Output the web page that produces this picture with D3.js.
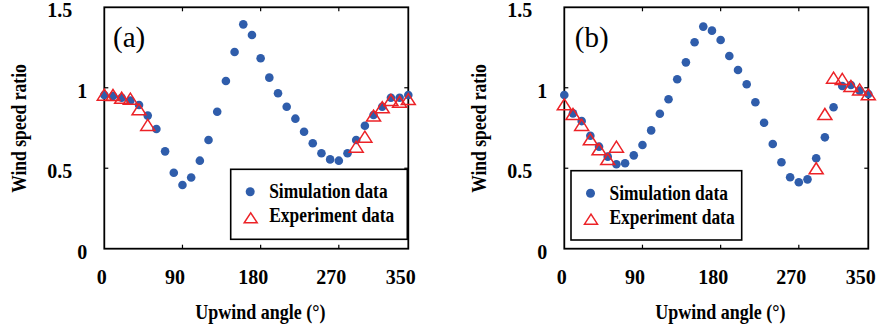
<!DOCTYPE html>
<html>
<head>
<meta charset="utf-8">
<script src="https://cdn.jsdelivr.net/npm/d3@7/dist/d3.min.js"></script>
<style>
  html, body { margin: 0; padding: 0; background: #fff; }
  svg { display: block; }
  text { font-family: "Liberation Serif", "Times New Roman", serif; }
</style>
</head>
<body>
<svg id="chart" width="879" height="326"></svg>
<script>
// ---------- data ----------
const angles = [0,10,20,30,40,50,60,70,80,90,100,110,120,130,140,150,160,170,
                180,190,200,210,220,230,240,250,260,270,280,290,300,310,320,330,340,350];

const simA = [0.955,0.949,0.938,0.920,0.893,0.827,0.744,0.605,0.472,0.396,
              0.442,0.547,0.675,0.851,1.042,1.222,1.394,1.328,1.183,1.063,
              0.966,0.882,0.808,0.727,0.655,0.593,0.555,0.547,0.593,0.675,
              0.764,0.831,0.882,0.938,0.938,0.955];
const expA = [0.957,0.955,0.938,0.932,0.866,0.769,null,null,null,null,
              null,null,null,null,null,null,null,null,null,null,
              null,null,null,null,null,null,null,null,null,0.634,
              0.696,0.827,0.879,0.924,0.913,0.930];

const simB = [0.955,0.841,0.793,0.702,0.634,0.572,0.525,0.531,0.580,0.644,
              0.735,0.839,0.929,1.053,1.158,1.283,1.380,1.355,1.297,1.197,
              1.110,1.022,0.910,0.783,0.651,0.537,0.444,0.413,0.431,0.562,
              0.692,0.879,1.011,1.017,0.982,0.961];
const expB = [0.897,0.837,0.769,0.680,0.618,0.557,0.634,null,null,null,
              null,null,null,null,null,null,null,null,null,null,
              null,null,null,null,null,null,null,null,null,0.500,
              0.837,1.063,1.055,1.011,0.990,0.959];

const xTicks = [0, 90, 180, 270, 350];
const xTickLabels = ["0", "90", "180", "270", "350"];
const yTicks = [0, 0.5, 1, 1.5];
const yTickLabels = ["0", "0.5", "1", "1.5"];
const seriesNames = ["Simulation data", "Experiment data"];
const panelLabels = ["(a)", "(b)"];
const xTitle = "Upwind angle (°)";
const yTitle = "Wind speed ratio";

// ---------- styling ----------
const BLUE = "#2f5dab";
const RED = "#ec2227";
const svg = d3.select("#chart");

function drawPanel(cfg) {
  const x = d3.scaleLinear().domain([0, 350]).range([cfg.left, cfg.left + 304]);
  const y = d3.scaleLinear().domain([0, 1.5]).range([248.7, 7.3]);
  const g = svg.append("g");
  const [x0, x1] = x.range();
  const [y0, y1] = y.range();

  // inside ticks
  const tl = 4;
  g.append("g").selectAll("line.xb").data(xTicks.slice(1, -1)).join("line")
    .attr("x1", d => x(d)).attr("x2", d => x(d)).attr("y1", y0).attr("y2", y0 - tl)
    .attr("stroke", "#000").attr("stroke-width", 1.2);
  g.append("g").selectAll("line.xt").data(xTicks.slice(1, -1)).join("line")
    .attr("x1", d => x(d)).attr("x2", d => x(d)).attr("y1", y1).attr("y2", y1 + tl)
    .attr("stroke", "#000").attr("stroke-width", 1.2);
  g.append("g").selectAll("line.yl").data(yTicks.slice(1, -1)).join("line")
    .attr("x1", x0).attr("x2", x0 + tl).attr("y1", d => y(d)).attr("y2", d => y(d))
    .attr("stroke", "#000").attr("stroke-width", 1.2);
  g.append("g").selectAll("line.yr").data(yTicks.slice(1, -1)).join("line")
    .attr("x1", x1).attr("x2", x1 - tl).attr("y1", d => y(d)).attr("y2", d => y(d))
    .attr("stroke", "#000").attr("stroke-width", 1.2);

  // frame
  g.append("rect").attr("x", x0).attr("y", y1).attr("width", x1 - x0).attr("height", y0 - y1)
    .attr("fill", "none").attr("stroke", "#000").attr("stroke-width", 1.8);

  // x tick labels
  g.append("g").selectAll("text").data(xTicks).join("text")
    .attr("x", (d, i) => x(d) + (xTickLabels[i].length === 1 ? -2.5 : -7.5))
    .attr("y", 283.5)
    .attr("text-anchor", "middle")
    .attr("font-size", 20).attr("font-weight", "bold")
    .text((d, i) => xTickLabels[i]);

  // y tick labels
  g.append("g").selectAll("text").data(yTicks).join("text")
    .attr("x", (d, i) => x0 + (yTickLabels[i].includes(".") ? -32 : -17))
    .attr("y", d => y(d) + 10)
    .attr("text-anchor", "end")
    .attr("font-size", 20).attr("font-weight", "bold")
    .text((d, i) => yTickLabels[i]);

  // titles
  g.append("text")
    .attr("transform", `translate(${(x0 + x1) / 2 + 4},318.5) scale(0.9,1)`)
    .attr("text-anchor", "middle").attr("font-size", 20).attr("font-weight", "bold")
    .text(xTitle);
  g.append("text")
    .attr("transform", `translate(${x0 - 78.5},${(y0 + y1) / 2 + 0.5}) rotate(-90) scale(0.88,1)`)
    .attr("text-anchor", "middle").attr("font-size", 20).attr("font-weight", "bold")
    .text(yTitle);

  // panel label
  g.append("text").attr("x", x0 + cfg.labelDx).attr("y", 46.5)
    .attr("font-size", 29).attr("font-weight", "normal")
    .text(cfg.label);

  // legend box
  const lg = cfg.legend;
  g.append("rect").attr("x", lg.x).attr("y", lg.y).attr("width", lg.w).attr("height", lg.h)
    .attr("fill", "#fff").attr("stroke", "#000").attr("stroke-width", 1.6);

  // simulation dots
  const simPts = angles.map((a, i) => [a, cfg.sim[i]]).filter(p => p[1] != null);
  g.append("g").selectAll("circle").data(simPts).join("circle")
    .attr("cx", d => x(d[0])).attr("cy", d => y(d[1])).attr("r", 4.3)
    .attr("fill", BLUE);

  // experiment triangles
  const tri = (cx, cy, w, h) =>
    `M${cx - w / 2},${cy + h / 2}L${cx + w / 2},${cy + h / 2}L${cx},${cy - h / 2}Z`;
  const expPts = angles.map((a, i) => [a, cfg.exp[i]]).filter(p => p[1] != null);
  g.append("g").selectAll("path").data(expPts).join("path")
    .attr("d", d => tri(x(d[0]), y(d[1]), 14, 11))
    .attr("fill", "none").attr("stroke", RED).attr("stroke-width", 1.5);

  // legend entries
  const mx = lg.x + 19.5, tx = lg.x + 38.5;
  g.append("circle").attr("cx", mx).attr("cy", lg.y + 22.5).attr("r", 4.5).attr("fill", BLUE);
  g.append("path").attr("d", tri(mx + 0.5, lg.y + 48.5, 13, 10))
    .attr("fill", "none").attr("stroke", RED).attr("stroke-width", 1.5);
  seriesNames.forEach((s, i) => {
    g.append("text")
      .attr("transform", `translate(${tx},${lg.y + 29 + i * 24}) scale(0.87,1)`)
      .attr("font-size", 20).attr("font-weight", "bold")
      .text(s);
  });
}

drawPanel({ left: 104.3, sim: simA, exp: expA, label: panelLabels[0], labelDx: 8.7,
            legend: { x: 230.7, y: 169.3, w: 176.6, h: 70 } });
drawPanel({ left: 564.3, sim: simB, exp: expB, label: panelLabels[1], labelDx: 10.5,
            legend: { x: 571, y: 170.7, w: 170.7, h: 69.3 } });
</script>
</body>
</html>
